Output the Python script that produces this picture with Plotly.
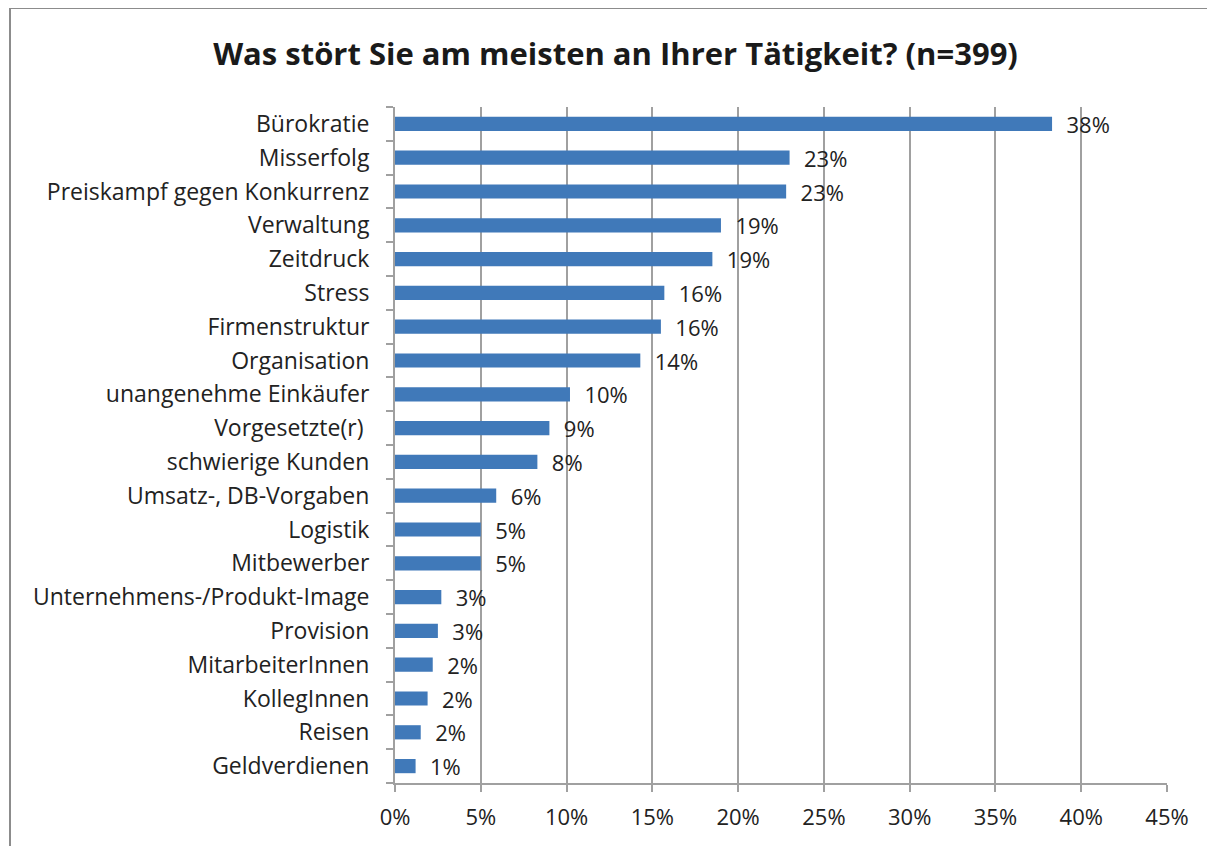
import plotly.graph_objects as go

# categories from top to bottom
categories = ['Bürokratie', 'Misserfolg', 'Preiskampf gegen Konkurrenz', 'Verwaltung',
              'Zeitdruck', 'Stress', 'Firmenstruktur', 'Organisation',
              'unangenehme Einkäufer', 'Vorgesetzte(r) ', 'schwierige Kunden',
              'Umsatz-, DB-Vorgaben', 'Logistik', 'Mitbewerber',
              'Unternehmens-/Produkt-Image', 'Provision', 'MitarbeiterInnen',
              'KollegInnen', 'Reisen', 'Geldverdienen']
values = [0.383, 0.230, 0.228, 0.190, 0.185, 0.157, 0.155, 0.143, 0.102, 0.090,
          0.083, 0.059, 0.050, 0.050, 0.027, 0.025, 0.022, 0.019, 0.015, 0.012]
labels = ['38%', '23%', '23%', '19%', '19%', '16%', '16%', '14%', '10%', '9%',
          '8%', '6%', '5%', '5%', '3%', '3%', '2%', '2%', '2%', '1%']

font = 'Open Sans'
grid = '#A0A0A0'

fig = go.Figure()
fig.add_trace(go.Bar(y=categories, x=values, orientation='h',
                     marker=dict(color='#4079B9', line=dict(width=0)),
                     width=0.42,
                     text=['\u00a0\u00a0' + s for s in labels],
                     textposition='outside', cliponaxis=False, constraintext='none',
                     textfont=dict(family=font, size=22, color='#222222')))

# page body has an 8px margin, so margins are shifted to compensate
fig.update_layout(
    width=1215, height=846,
    margin=dict(l=387, r=56, t=99, b=71),
    paper_bgcolor='white', plot_bgcolor='white',
    showlegend=False,
    title=dict(text='<b>Was stört Sie am meisten an Ihrer Tätigkeit? (n=399)</b>',
               x=0.5, xanchor='center', y=0.945, yanchor='middle',
               font=dict(family=font, size=31, color='#1a1a1a')),
    font=dict(family=font, size=22, color='#222222'),
)
fig.update_xaxes(range=[0, 0.45], dtick=0.05, tickformat='.0%',
                 showgrid=True, gridcolor=grid, gridwidth=2,
                 showline=True, linecolor=grid, linewidth=2,
                 ticks='outside', ticklen=7, tickcolor=grid, tickwidth=2,
                 ticklabelstandoff=7,
                 zeroline=False, tickfont=dict(family=font, size=22))
fig.update_yaxes(categoryorder='array', categoryarray=categories[::-1],
                 showline=True, linecolor=grid, linewidth=2,
                 ticks='outside', tickson='boundaries', ticklen=7,
                 tickcolor=grid, tickwidth=2, showgrid=False,
                 ticklabelstandoff=19,
                 tickfont=dict(family=font, size=23))

# outer chart border
fig.add_shape(type='rect', xref='paper', yref='paper',
              x0=-385 / 772, x1=1.2, y0=-0.2, y1=1 + 99 / 676,
              line=dict(color='#8C8C8C', width=2))

fig.write_html('out.html')
